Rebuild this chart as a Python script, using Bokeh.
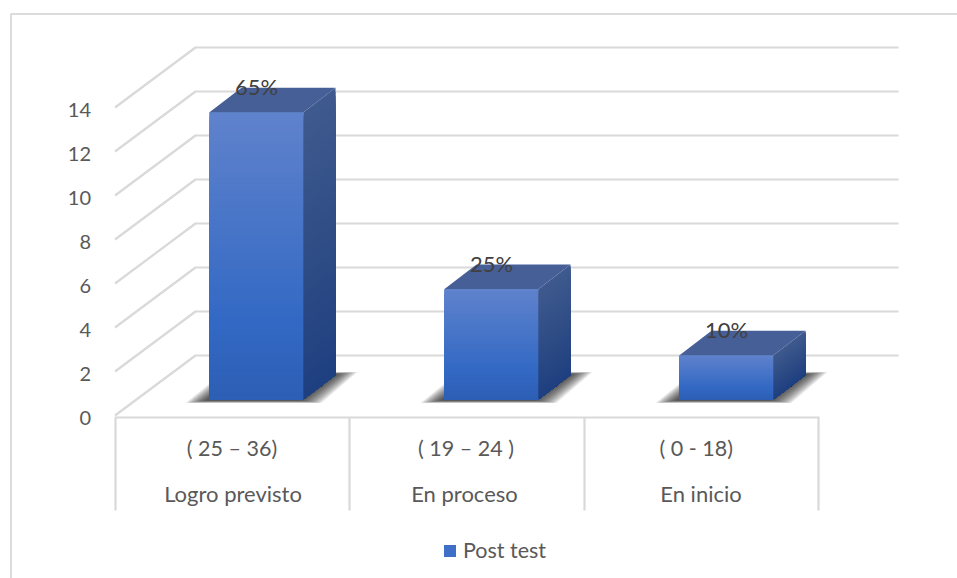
import numpy as np
from bokeh.core.properties import value
from bokeh.embed import file_html
from bokeh.models import FixedTicker, Legend, LegendItem, LinearAxis, Range1d
from bokeh.plotting import figure
from bokeh.resources import INLINE

# Chart data
levels = ["Logro previsto", "En proceso", "En inicio"]
score_ranges = ["( 25 \u2013 36)", "( 19 \u2013 24 )", "( 0  - 18)"]
post_test = [13, 5, 2]
percent_labels = ["65%", "25%", "10%"]
y_ticks = [0, 2, 4, 6, 8, 10, 12, 14]
series_name = "Post test"

# Page geometry of the pseudo-3D box, in pixels
W, H = 957, 578
CAT_X0, CAT_STEP = 256, 235       # centre of the first category, category pitch
UNIT = 22.0                       # pixels per value unit on the walls
FRONT_ZERO = 416.0                # baseline of the front plane
BAR_UNIT = 22.1                   # pixels per value unit on the bars
BAR_ZERO = 399.0                  # floor line of the bars
BAR_W = 94
DEPTH_X, DEPTH_Y = 32, 24.5
WALL_X0, WALL_X1, FRONT_X = 195, 898, 114.5
WALL_DY = 61

FONT = value("Lato")
GREY = "#d9d9d9"
TEXT = "#595959"


def x_of(px):
    return (np.asarray(px, dtype=float) - CAT_X0) / CAT_STEP


def y_of(py):
    return (FRONT_ZERO - np.asarray(py, dtype=float)) / UNIT


def bar_py(v):
    return BAR_ZERO - np.asarray(v, dtype=float) * BAR_UNIT


def mix(stops, t):
    pos = [s[0] for s in stops]
    cols = np.array([[int(s[1][i:i + 2], 16) for i in (1, 3, 5)] for s in stops], dtype=float)
    rgb = [np.interp(t, pos, cols[:, k]) for k in range(3)]
    return "#%02x%02x%02x" % tuple(int(round(c)) for c in rgb)


p = figure(
    width=W, height=H, output_backend="svg", toolbar_location=None,
    x_axis_type=None, y_axis_type=None, min_border=0,
    x_range=Range1d(float(x_of(0)), float(x_of(W))),
    y_range=Range1d(float(y_of(H)), float(y_of(0))),
    outline_line_color=None, background_fill_color="white", border_fill_color="white",
)

# Outer chart border (left and top edges)
p.line(x_of([10.5, 10.5, W]), y_of([H, 13.5, 13.5]), line_color="#dcdcdc", line_width=2)

# Wall gridlines: diagonal on the side wall, then straight across the back wall
grid_xs = [x_of([FRONT_X, WALL_X0, WALL_X1]) for _ in y_ticks]
grid_ys = [
    np.array([t + (FRONT_ZERO + 1 - 416) / UNIT, t + WALL_DY / UNIT, t + WALL_DY / UNIT]) for t in y_ticks
]
p.multi_line(grid_xs, grid_ys, line_color=GREY, line_width=2.2)

# Category table under the floor
p.line(x_of([FRONT_X, 819]), y_of([417, 417]), line_color=GREY, line_width=2.2)
for edge in (115, 349, 584, 818):
    p.line(x_of([edge, edge]), y_of([417, 510]), line_color=GREY, line_width=2.2)

p.text(x_of([231.5, 465.5, 698.5]), [y_of(447.5)] * 3, text=score_ranges, text_font=FONT,
       text_font_size="21.5px", text_color=TEXT, text_align="center", text_baseline="middle")
p.text(x_of([232.5, 464, 700.5]), [y_of(492.5)] * 3, text=levels, text_font=FONT,
       text_font_size="22px", text_color=TEXT, text_align="center", text_baseline="middle")

# Soft shadow on the floor behind each bar: many faint nested layers
cat_x = np.arange(len(levels))
SHADOW_LAYERS = np.linspace(0, 30, 22)
for i, v in enumerate(post_test):
    left = CAT_X0 + i * CAT_STEP - BAR_W / 2
    right = left + BAR_W
    for t in SHADOW_LAYERS:
        xs = [left - 24 + t, right + 18 - t, right + 54 - t, left + 14 + t]
        ys = [402.5 - t * 0.12, 402.5 - t * 0.12, 371.5 + t * 0.1, 371.5 + t * 0.1]
        p.patch(x_of(xs), y_of(ys), fill_color="#1c1c1c", fill_alpha=0.08, line_color=None)

# Bars: base faces from the values, then shaded strips and side and top faces
lefts = x_of(CAT_X0 + cat_x * CAT_STEP - BAR_W / 2)
rights = x_of(CAT_X0 + cat_x * CAT_STEP + BAR_W / 2)
tops_py = bar_py(post_test)
base_py = bar_py(0)

front = p.quad(left=lefts, right=rights, top=y_of(tops_py), bottom=y_of(base_py),
               fill_color="#3f6fc6", line_color=None)

FRONT_STOPS = [(0, "#5f82cc"), (0.72, "#3369c4"), (1, "#2d5eb4")]
SIDE_STOPS = [(0, "#3f5a8e"), (0.6, "#2c4a84"), (1, "#1e3f80")]
TOP_FILL = "#475f97"
STEPS = 70
for i, v in enumerate(post_test):
    top, base = tops_py[i], base_py
    left_px = CAT_X0 + i * CAT_STEP - BAR_W / 2
    right_px = left_px + BAR_W
    back_px = right_px + DEPTH_X
    for k in range(STEPS):
        t = k / STEPS
        py = top + (base - top) * t
        p.quad(left=[lefts[i]], right=[rights[i]], top=[y_of(py)], bottom=[y_of(base)],
               fill_color=mix(FRONT_STOPS, t), line_color=None)
        p.patch(x_of([right_px, back_px, back_px, right_px]),
                y_of([py, py - DEPTH_Y, base - DEPTH_Y, base]),
                fill_color=mix(SIDE_STOPS, t), line_color=None)
    p.patch(x_of([left_px, left_px + DEPTH_X, back_px, right_px]),
            y_of([top, top - DEPTH_Y, top - DEPTH_Y, top]),
            fill_color=TOP_FILL, line_color=None)

# Percentage labels sit on the rear edge of each bar's top face
p.text(cat_x, y_of(tops_py - DEPTH_Y - 1), text=percent_labels, text_font=FONT,
       text_font_size="22px", text_color="#404040", text_align="center", text_baseline="middle")

# Value axis, drawn at a fixed place inside the frame, one pixel below the wall scale
p.extra_y_ranges["ticks"] = Range1d(float(y_of(H)) + 1 / UNIT, float(y_of(0)) + 1 / UNIT)
axis = LinearAxis(
    y_range_name="ticks",
    fixed_location=float(x_of(96.5)),
    ticker=FixedTicker(ticks=y_ticks),
    axis_line_color=None, major_tick_line_color=None, minor_tick_line_color=None,
    major_label_standoff=0,
    major_label_text_font="Lato", major_label_text_font_size="20px",
    major_label_text_color=TEXT,
)
p.add_layout(axis, "left")

# Legend at the bottom centre
legend = Legend(
    items=[LegendItem(label=series_name, renderers=[front])],
    location=(442, H - 563), orientation="horizontal",
    glyph_width=15, glyph_height=15, label_standoff=6, padding=0, margin=0, spacing=0,
    border_line_color=None, background_fill_alpha=0,
    label_text_font="Lato", label_text_font_size="21.5px", label_text_color=TEXT,
)
p.add_layout(legend, "center")

open("out.html", "w").write(file_html(p, INLINE))
